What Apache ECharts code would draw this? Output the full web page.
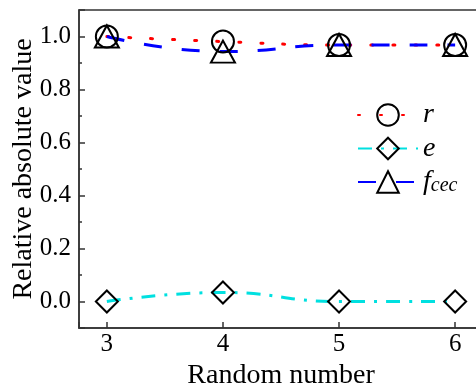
<!DOCTYPE html>
<html>
<head>
<meta charset="utf-8">
<script src="https://cdn.jsdelivr.net/npm/echarts@6/dist/echarts.min.js"></script>
<style>
  html, body { margin: 0; padding: 0; background: #fff; }
  #chart { width: 476px; height: 390px; }
</style>
</head>
<body>
<div id="chart"></div>
<script>
// values
const randomNumbers = [3, 4, 5, 6];
const rValues = [1.0, 0.981, 0.968, 0.968];
const eValues = [0.0, 0.034, 0.0, 0.0];
const fcecValues = [1.0, 0.943, 0.968, 0.968];
const seriesNames = ['r', 'e', 'f_cec'];

const serif = "'Liberation Serif', 'Times New Roman', serif";
const axisColor = '#333';

const toPoints = vals => randomNumbers.map((x, i) => [x, vals[i]]);

const markerStyle = {
    color: 'rgba(0,0,0,0)',
    borderColor: '#000',
    borderWidth: 2
};

const chart = echarts.init(document.getElementById('chart'));

chart.setOption({
    animation: false,
    grid: {
        left: 79, top: 10, right: -7, bottom: 62,
        outerBoundsMode: 'none',
        show: true, borderColor: axisColor, borderWidth: 1.5,
        backgroundColor: 'transparent'
    },
    legend: {
        orient: 'vertical',
        left: 352,
        top: 96,
        itemWidth: 60,
        itemHeight: 27,
        itemGap: 5.5,
        data: seriesNames,
        formatter(name) {
            if (name === 'f_cec') return '{it|f}{sub|cec}';
            return '{it|' + name + '}';
        },
        textStyle: {
            rich: {
                it: { fontFamily: serif, fontStyle: 'italic', fontSize: 28, color: '#000', lineHeight: 27 },
                sub: { fontFamily: serif, fontStyle: 'italic', fontSize: 20, color: '#000', lineHeight: 14, verticalAlign: 'bottom' }
            }
        }
    },
    xAxis: {
        type: 'value',
        min: 2.76,
        max: 6.24,
        splitNumber: 3,
        name: 'Random number',
        nameLocation: 'middle',
        nameGap: 28,
        nameTextStyle: { fontFamily: serif, fontSize: 28, color: '#000' },
        axisLine: { onZero: false, lineStyle: { color: axisColor, width: 1.5 } },
        axisTick: { inside: true, length: 6, lineStyle: { color: axisColor, width: 1.5 } },
        axisLabel: {
            margin: 4,
            fontFamily: serif, fontSize: 25, color: '#000',
            formatter: v => Number.isInteger(v) ? String(v) : ''
        },
        splitLine: { show: false }
    },
    yAxis: [
        {
            type: 'value',
            min: -0.1,
            max: 1.1,
            splitNumber: 6,
            name: 'Relative absolute value',
            nameLocation: 'middle',
            nameGap: 41,
            nameMoveOverlap: false,
            nameTextStyle: { fontFamily: serif, fontSize: 28, color: '#000' },
            axisLine: { show: true, onZero: false, lineStyle: { color: axisColor, width: 1.5 } },
            axisTick: { show: true, inside: true, length: 6, lineStyle: { color: axisColor, width: 1.5 } },
            axisLabel: {
                margin: 8,
                fontFamily: serif, fontSize: 25, color: '#000',
                formatter: v => (v > -0.05 && v < 1.05) ? v.toFixed(1) : ''
            },
            splitLine: { show: false }
        },
        {
            // minor ticks
            type: 'value',
            position: 'left',
            min: -0.1,
            max: 1.1,
            interval: 0.1,
            axisLine: { show: false, onZero: false },
            axisTick: { show: true, inside: true, length: 3, lineStyle: { color: axisColor, width: 1.5 } },
            axisLabel: { show: false },
            splitLine: { show: false }
        }
    ],
    series: [
        {
            name: 'r',
            type: 'line',
            data: toPoints(rValues),
            smooth: 0.5,
            symbol: 'circle',
            symbolSize: 22,
            itemStyle: markerStyle,
            lineStyle: { color: '#ff0000', width: 3, type: [2, 20], cap: 'round' }
        },
        {
            name: 'e',
            type: 'line',
            data: toPoints(eValues),
            smooth: 0.5,
            symbol: 'diamond',
            symbolSize: 22,
            itemStyle: markerStyle,
            lineStyle: { color: '#00e0e0', width: 3, type: [14, 9, 3, 9] }
        },
        {
            name: 'f_cec',
            type: 'line',
            data: toPoints(fcecValues),
            smooth: 0.5,
            symbol: 'triangle',
            symbolSize: [24, 22],
            itemStyle: markerStyle,
            lineStyle: { color: '#0000ff', width: 3, type: [18, 20] }
        }
    ]
});
</script>
</body>
</html>
